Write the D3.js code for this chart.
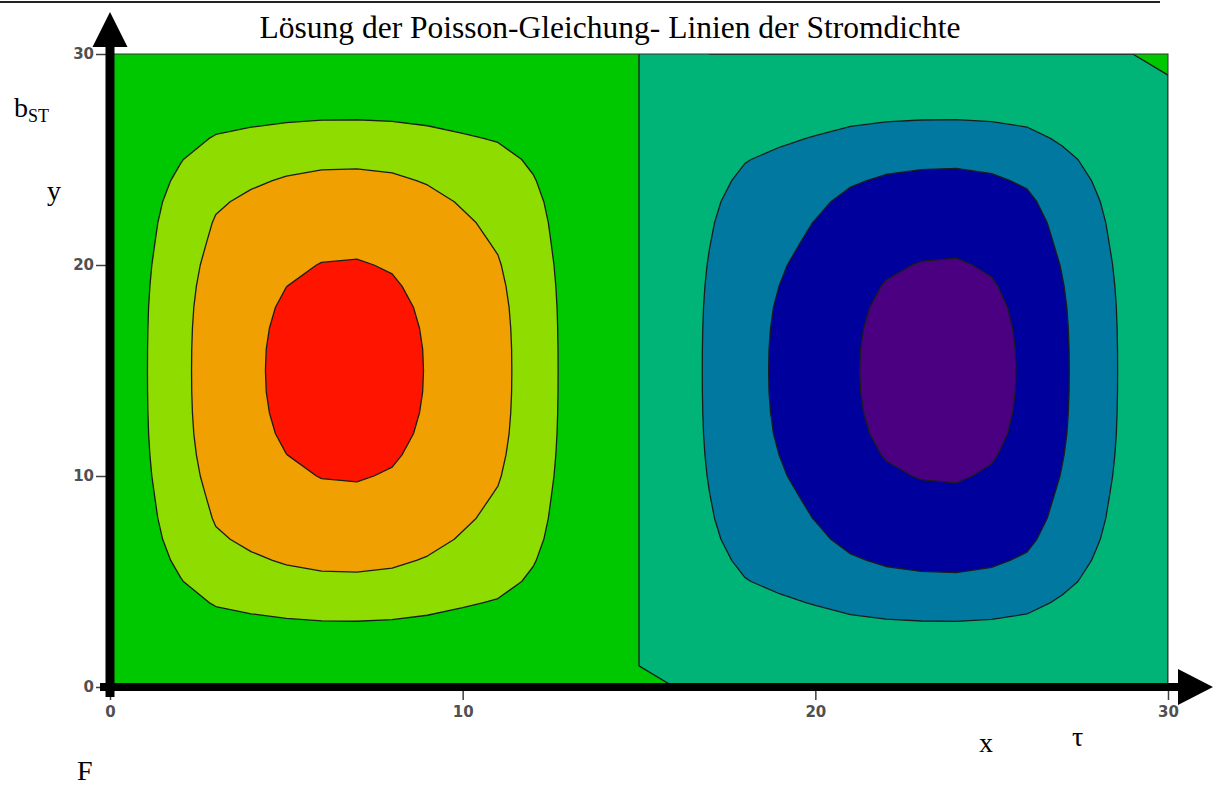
<!DOCTYPE html>
<html>
<head>
<meta charset="utf-8">
<script src="https://cdn.jsdelivr.net/npm/d3@7"></script>
<style>
  body { margin: 0; background: #fff; }
  svg { display: block; }
  .tick text { font-family: "DejaVu Sans", sans-serif; font-size: 15px; font-weight: bold; fill: #505050; }
  .tick line { stroke: #404040; stroke-width: 1.5; }
  .label { font-family: "Liberation Serif", "Times New Roman", serif; fill: #000; }
</style>
</head>
<body>
<div id="chart"></div>
<script>
// contour levels and the colour of each band (lowest band first)
const levels = [-3, -2, -1, 0, 1, 2, 3];
const bandColors = ["#4b0082", "#00009c", "#0078a0", "#00b478", "#00c800", "#8fdc00", "#f0a000", "#ff1400"];

const xTicks = [0, 10, 20, 30];
const yTicks = [0, 10, 20, 30];

// field along the centre line y = 15, one value per grid column x = 0..30
const xProfile = [0, 0.95, 1.75, 2.55, 2.89, 3.16, 3.32, 3.35, 3.24, 2.97, 2.6, 2.26, 1.6, 0.75, 0.38, 0,
  -0.42, -1.15, -1.75, -2.12, -2.5, -2.93, -3.2, -3.33, -3.36, -3.22, -2.9, -2.15, -1.4, -0.7, 0];

// relative strength along y = 0..30 (1 on the centre line)
const yProfile = [0, 0.089, 0.185, 0.283, 0.417, 0.551, 0.655, 0.744, 0.81, 0.858, 0.91, 0.948, 0.975, 0.99, 0.998, 1,
  0.998, 0.99, 0.975, 0.948, 0.91, 0.858, 0.81, 0.744, 0.655, 0.551, 0.417, 0.283, 0.185, 0.089, 0];

// boundary points the solver left slightly below zero [x, y, value]
const boundaryResidue = [[16, 30, -0.001], [29, 0, -0.001]];

class ContourPlot {
  constructor(selector) {
    this.width = 1215;
    this.height = 786;
    this.margin = { top: 54, right: 47, bottom: 99, left: 110 };

    this.svg = d3
      .select(selector)
      .append("svg")
      .attr("width", this.width)
      .attr("height", this.height);

    this.x = d3
      .scaleLinear()
      .domain([0, 30])
      .range([this.margin.left, this.width - this.margin.right]);
    this.y = d3
      .scaleLinear()
      .domain([0, 30])
      .range([this.height - this.margin.bottom, this.margin.top]);
  }

  buildGrid() {
    const n = xProfile.length;
    const m = yProfile.length;
    const values = new Array(n * m);
    for (let j = 0; j < m; j++) {
      for (let i = 0; i < n; i++) values[j * n + i] = xProfile[i] * yProfile[j];
    }
    boundaryResidue.forEach(([i, j, v]) => (values[j * n + i] = v));
    return { n, m, values };
  }

  render() {
    const x = this.x;
    const y = this.y;
    const svg = this.svg;

    // page rule at the very top
    svg.append("line")
      .attr("x1", 0).attr("x2", 1160)
      .attr("y1", 2).attr("y2", 2)
      .attr("stroke", "#222").attr("stroke-width", 2);

    svg.append("text")
      .attr("class", "label")
      .attr("x", 610).attr("y", 38)
      .attr("text-anchor", "middle")
      .style("font-size", "31.5px")
      .text("Lösung der Poisson-Gleichung- Linien der Stromdichte");

    svg.append("clipPath")
      .attr("id", "plot-clip")
      .append("rect")
      .attr("x", x(0)).attr("y", y(30))
      .attr("width", x(30) - x(0)).attr("height", y(0) - y(30));

    const plot = svg.append("g").attr("clip-path", "url(#plot-clip)");

    plot.append("rect")
      .attr("x", x(0)).attr("y", y(30))
      .attr("width", x(30) - x(0)).attr("height", y(0) - y(30))
      .attr("fill", bandColors[0]);

    const { n, m, values } = this.buildGrid();
    const contours = d3.contours().size([n, m]).thresholds(levels)(values);

    // grid point i sits at contour coordinate i + 0.5
    const path = d3.geoPath(
      d3.geoTransform({
        point(px, py) {
          this.stream.point(x(px - 0.5), y(py - 0.5));
        },
      })
    );

    plot.selectAll("path.band")
      .data(contours)
      .join("path")
      .attr("class", "band")
      .attr("d", path)
      .attr("fill", (d, i) => bandColors[i + 1])
      .attr("stroke", "#1c1c1c")
      .attr("stroke-width", 1.3)
      .attr("stroke-linejoin", "round");

    svg.append("rect")
      .attr("x", x(0)).attr("y", y(30))
      .attr("width", x(30) - x(0)).attr("height", y(0) - y(30))
      .attr("fill", "none")
      .attr("stroke", "#333");

    // tick labels
    const yAxis = svg.append("g")
      .attr("transform", `translate(${x(0)},0)`)
      .call(d3.axisLeft(y).tickValues(yTicks).tickSize(14).tickPadding(2).tickFormat(d3.format("d")));
    yAxis.select(".domain").remove();

    const xAxis = svg.append("g")
      .attr("transform", `translate(0,${y(0)})`)
      .call(d3.axisBottom(x).tickValues(xTicks).tickSize(13).tickPadding(6).tickFormat(d3.format("d")));
    xAxis.select(".domain").remove();

    // heavy arrows drawn over the axes
    svg.append("rect")
      .attr("x", x(0) - 4.5).attr("y", 45)
      .attr("width", 9).attr("height", y(0) + 10 - 45)
      .attr("fill", "#000");
    svg.append("path")
      .attr("d", `M${x(0) - 17.5},47L${x(0)},12L${x(0) + 17.5},47Z`)
      .attr("fill", "#000");

    svg.append("rect")
      .attr("x", 100).attr("y", y(0) - 4)
      .attr("width", 1080).attr("height", 8)
      .attr("fill", "#000");
    svg.append("path")
      .attr("d", `M1178,${y(0) - 18}L1213,${y(0)}L1178,${y(0) + 18}Z`)
      .attr("fill", "#000");

    // axis names around the plot
    const bst = svg.append("text").attr("class", "label")
      .attr("x", 14).attr("y", 117)
      .style("font-size", "28px");
    bst.append("tspan").text("b");
    bst.append("tspan").attr("dy", 5).style("font-size", "18px").text("ST");

    [
      { t: "y", x: 47, y: 200 },
      { t: "x", x: 979, y: 752 },
      { t: "τ", x: 1072, y: 746 },
      { t: "F", x: 77, y: 780 },
    ].forEach((d) =>
      svg.append("text").attr("class", "label")
        .attr("x", d.x).attr("y", d.y)
        .style("font-size", "28px")
        .text(d.t)
    );
  }
}

const chart = new ContourPlot("#chart");
chart.render();
</script>
</body>
</html>
